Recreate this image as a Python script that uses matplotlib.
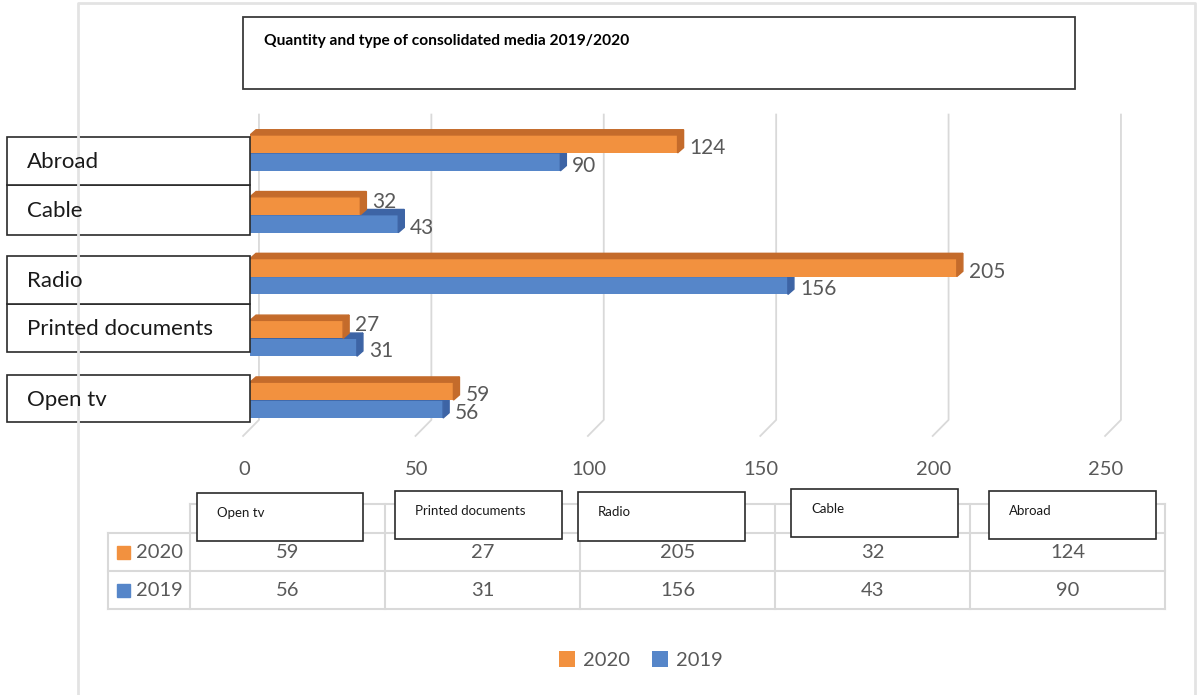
import matplotlib
matplotlib.use('Agg')
from matplotlib import pyplot as plt
from matplotlib.patches import Rectangle, Polygon
import numpy as np

# data
categories = ['Open tv', 'Printed documents', 'Radio', 'Cable', 'Abroad']
series_names = ['2020', '2019']
v2020 = [59, 27, 205, 32, 124]
v2019 = [56, 31, 156, 43, 90]
xticks = [0, 50, 100, 150, 200, 250]
title = 'Quantity and type of consolidated media 2019/2020'

plt.rcParams['font.family'] = ['Lato', 'DejaVu Sans']

W, H = 1200, 695
fig = plt.figure(figsize=(W / 100, H / 100), dpi=100)

front = {'2020': '#F2913F', '2019': '#5686C9'}
dark = {'2020': '#C46B2B', '2019': '#3D64A5'}
grey_txt = '#595959'
line_c = '#d9d9d9'


def px_axes(x0, y0, x1, y1):
    return fig.add_axes([x0 / W, 1 - y1 / H, (x1 - x0) / W, (y1 - y0) / H])


# main bar area: 0..250 -> 250..1112 px, categories 61.75 px apart
ax = px_axes(250, 122, 1112, 431)
ax.set_xlim(0, 250)
ax.set_ylim(-0.5, 4.5)
ax.axis('off')

# slanted 3d gridlines
for v in xticks:
    ax.plot([v + 2.6, v + 2.6, v - 2.0], [4.62, -0.32, -0.58],
            color=line_c, lw=1.3, clip_on=False, zorder=0)
    ax.text(v - 1.8, -1.13, str(v), ha='center', va='center',
            fontsize=14.5, color=grey_txt, clip_on=False)

y = np.arange(len(categories))
h = 0.29
dx, dy = 1.75, 0.085
bars = {}
for name, vals, other, off in [('2019', v2019, v2020, -h / 2), ('2020', v2020, v2019, h / 2)]:
    yy = y + off
    bars[name] = ax.barh(yy, vals, height=h, color=front[name], zorder=2)
    for yc, v, o in zip(yy, vals, other):
        top, bot = yc + h / 2, yc - h / 2
        ax.add_patch(Polygon([(0, top), (v, top), (v + dx, top + dy), (dx, top + dy)],
                             closed=True, color=dark[name], zorder=2))
        ax.add_patch(Polygon([(v, bot), (v, top), (v + dx, top + dy), (v + dx, bot + dy)],
                             closed=True, color=dark[name], zorder=2))
        # lift the upper label when the lower bar sticks out further
        lift = 4 if (name == '2020' and o > v) else -4
        ax.annotate(str(v), xy=(v, yc), xytext=(12, lift), textcoords='offset pixels',
                    ha='left', va='center', fontsize=15, color=grey_txt,
                    annotation_clip=False, zorder=3)

# overlay in pixel coordinates for boxes and data table
ov = fig.add_axes([0, 0, 1, 1], zorder=5)
ov.set_xlim(0, W)
ov.set_ylim(H, 0)
ov.axis('off')

# chart border
ov.plot([78, 78, 1195, 1195], [H, 3, 3, H], color='#e3e3e3', lw=2)

# title box
ov.add_patch(Rectangle((243, 17), 832, 72, facecolor='white', edgecolor='#3a3a3a', lw=1.3))
ov.text(264, 41, title, fontsize=11.2, fontweight='bold', va='center', ha='left', color='black')

# category boxes on the left
left_boxes = [(375, 422), (304, 352), (256, 304), (185, 235), (137, 185)]
for cat, (y0, y1) in zip(categories, left_boxes):
    ov.add_patch(Rectangle((7, y0), 243, y1 - y0, facecolor='white', edgecolor='#2a2a2a', lw=1.2))
    ov.text(27, (y0 + y1) / 2 + 1, cat, fontsize=16, va='center', ha='left', color='#1a1a1a')

# data table
col_x = [108, 190, 385, 580, 775, 970, 1165]
row_y = [504, 533, 571, 609]
ov.plot([190, 1165], [504, 504], color=line_c, lw=1.5)
for ry in row_y[1:]:
    ov.plot([108, 1165], [ry, ry], color=line_c, lw=1.5)
ov.plot([108, 108], [533, 609], color=line_c, lw=1.5)
for cx in col_x[1:]:
    ov.plot([cx, cx], [504, 609], color=line_c, lw=1.5)

for ri, (name, vals) in enumerate([('2020', v2020), ('2019', v2019)]):
    yc = (row_y[ri + 1] + row_y[ri + 2]) / 2
    ov.add_patch(Rectangle((117, yc - 6.5), 13, 13, color=front[name]))
    ov.text(136, yc, name, fontsize=14.5, va='center', ha='left', color=grey_txt)
    for ci, v in enumerate(vals):
        ov.text((col_x[ci + 1] + col_x[ci + 2]) / 2, yc, str(v), fontsize=14.5,
                va='center', ha='center', color=grey_txt)

# header boxes over the table
head_boxes = [(197, 493, 363, 541), (395, 491, 562, 539), (578, 492, 745, 541),
              (791, 489, 958, 537), (989, 491, 1156, 539)]
for cat, (x0, y0, x1, y1) in zip(categories, head_boxes):
    ov.add_patch(Rectangle((x0, y0), x1 - x0, y1 - y0, facecolor='white',
                           edgecolor='#2a2a2a', lw=1.2, zorder=3))
    ov.text(x0 + 20, y0 + 20, cat, fontsize=9.5, va='center', ha='left',
            color='#1a1a1a', zorder=4)

# legend
fig.legend([bars['2020'], bars['2019']], series_names, loc='center', ncol=2,
           bbox_to_anchor=(641 / W, 1 - 660 / H), frameon=False,
           handlelength=0.8, handleheight=0.8, handletextpad=0.4, columnspacing=1.1,
           fontsize=14.5, labelcolor=grey_txt)

fig.savefig('out.png', dpi=100)
